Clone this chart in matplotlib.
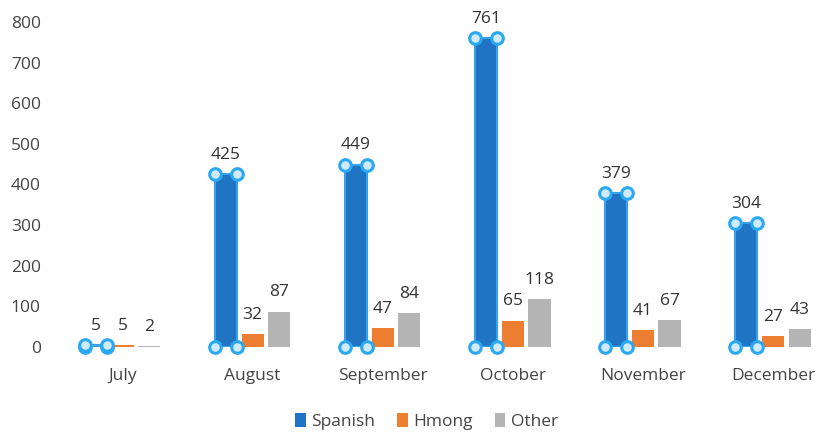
import matplotlib.pyplot as plt
import numpy as np

months = ["July", "August", "September", "October", "November", "December"]
spanish = [5, 425, 449, 761, 379, 304]
hmong = [5, 32, 47, 65, 41, 27]
other = [2, 87, 84, 118, 67, 43]

plt.rcParams['font.family'] = ['Open Sans', 'DejaVu Sans']

fig = plt.figure(figsize=(8.2, 4.32), dpi=100)
ax = fig.add_axes([0.07, 0.197, 0.952, 0.752])

x = np.arange(len(months))
w = 0.17
off = 0.205
blue = '#1f74c4'
orange = '#ed7d31'
gray = '#b4b4b4'

b1 = ax.bar(x - off, spanish, w, color=blue, edgecolor='#3aa0e8', linewidth=1.5, label='Spanish')
b2 = ax.bar(x, hmong, w, color=orange, label='Hmong')
b3 = ax.bar(x + off, other, w, color=gray, label='Other')

# selection handles on the Spanish bars
for xi, v in zip(x - off, spanish):
    xs = [xi - w / 2, xi + w / 2, xi - w / 2, xi + w / 2]
    ys = [0, 0, v, v]
    ax.scatter(xs, ys, s=70, facecolor='#cfeafc', edgecolor='#2aa8f0',
               linewidth=2.2, zorder=5, clip_on=False)

for bars, vals in ((b1, spanish), (b2, hmong), (b3, other)):
    for r, v in zip(bars, vals):
        ax.annotate(str(v), (r.get_x() + r.get_width() / 2, v),
                    xytext=(0, 8), textcoords='offset points',
                    ha='center', va='bottom', fontsize=12.5, color='#333333',
                    annotation_clip=False)

ax.set_ylim(0, 800)
ax.set_xlim(-0.5, 5.5)
ax.set_yticks(range(0, 801, 100))
ax.set_xticks(x)
ax.set_xticklabels(months)
ax.tick_params(length=0, labelsize=12.5, labelcolor='#444444')
ax.tick_params(axis='x', pad=15)
ax.tick_params(axis='y', pad=12)
for s in ax.spines.values():
    s.set_visible(False)

leg = fig.legend(handles=[b1, b2, b3], loc='center', bbox_to_anchor=(0.52, 0.025),
                 ncol=3, frameon=False, fontsize=12.5, handlelength=0.6,
                 handleheight=0.9, handletextpad=0.3, columnspacing=1.3)
for t in leg.get_texts():
    t.set_color('#444444')
for h in leg.legend_handles:
    h.set_edgecolor('none')

fig.savefig('out.png', dpi=100)
